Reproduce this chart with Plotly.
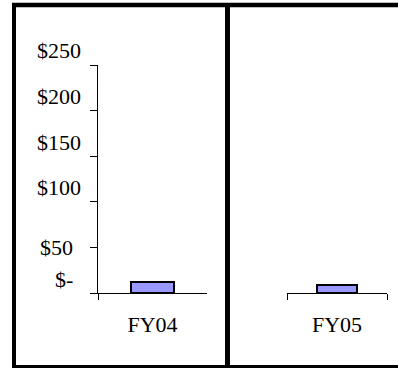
import plotly.graph_objects as go

# ---- data ----
categories_left = ["FY04"]
categories_right = ["FY05"]
values_left = [12]
values_right = [9]
tick_values = [0, 50, 100, 150, 200, 250]
tick_labels = ["$-", "$50", "$100", "$150", "$200", "$250"]

W, H = 398, 368
FONT = "Liberation Serif"
BAR_FILL = "#9999FF"


def px_x(p):
    return p / W


def px_y(p):
    return 1 - p / H


fig = go.Figure()
fig.add_trace(go.Bar(x=categories_left, y=values_left, width=0.4,
                     marker=dict(color=BAR_FILL, line=dict(color="black", width=2)),
                     xaxis="x", yaxis="y", showlegend=False))
fig.add_trace(go.Bar(x=categories_right, y=values_right, width=0.4,
                     marker=dict(color=BAR_FILL, line=dict(color="black", width=2)),
                     xaxis="x2", yaxis="y2", showlegend=False))

ydom = [px_y(293), px_y(65)]
xcommon = dict(type="category", range=[-0.5, 0.5], tickson="boundaries",
               ticks="outside", ticklen=6, tickcolor="black", tickwidth=1,
               showline=True, linecolor="black", linewidth=1, showgrid=False,
               zeroline=False, tickfont=dict(family=FONT, size=22, color="black"),
               ticklabelstandoff=12, fixedrange=True)
fig.update_layout(
    width=W, height=H,
    margin=dict(l=0, r=0, t=0, b=0),
    paper_bgcolor="white", plot_bgcolor="white",
    font=dict(family=FONT),
    xaxis=dict(domain=[px_x(98), px_x(207)], anchor="y", **xcommon),
    xaxis2=dict(domain=[px_x(287), px_x(387)], anchor="y2", **xcommon),
    yaxis=dict(domain=ydom, range=[0, 250], anchor="x", tickvals=tick_values,
               showticklabels=False, ticks="outside", ticklen=7, tickcolor="black",
               showline=True, linecolor="black", linewidth=1, showgrid=False,
               zeroline=False, fixedrange=True),
    yaxis2=dict(domain=ydom, range=[0, 250], anchor="x2", visible=False,
                fixedrange=True),
    bargap=0,
)

# y tick labels (placed as in the original, slightly offset from the ticks)
label_right_px = {"$-": 74, "$50": 74}
label_shift = {"$50": 0}
for v, t in zip(tick_values, tick_labels):
    fig.add_annotation(x=px_x(label_right_px.get(t, 82)), xref="paper", xanchor="right",
                       y=v, yref="y", yanchor="middle", yshift=label_shift.get(t, 14),
                       text=t, showarrow=False, borderpad=0,
                       font=dict(family=FONT, size=22, color="black"))

# frame lines
def line(x0, y0, x1, y1, w):
    fig.add_shape(type="line", xref="paper", yref="paper",
                  x0=px_x(x0), y0=px_y(y0), x1=px_x(x1), y1=px_y(y1),
                  line=dict(color="black", width=w))

line(12, 5, 398, 5, 4.5)
line(14, 3, 14, 368, 4)
line(12, 366.5, 398, 366.5, 3)
line(227.5, 3, 227.5, 368, 5)

fig.write_html("out.html")
